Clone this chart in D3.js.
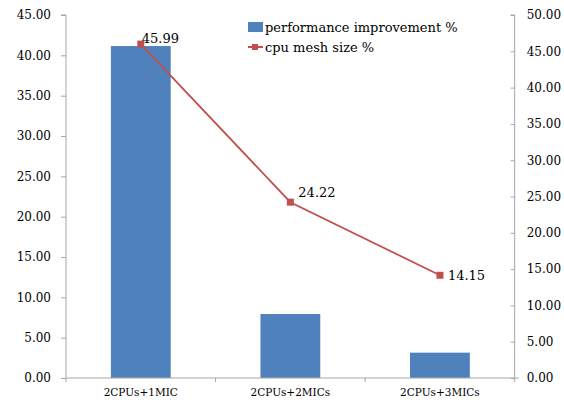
<!DOCTYPE html>
<html><head><meta charset="utf-8">
<script src="https://cdn.jsdelivr.net/npm/d3@7/dist/d3.min.js"></script>
<style>body{margin:0;background:#fff}svg{display:block}</style>
</head><body><svg id="c" width="564" height="404"></svg>
<script>
const categories = ["2CPUs+1MIC", "2CPUs+2MICs", "2CPUs+3MICs"];
const performance = [41.15, 7.93, 3.14];
const meshSize = [45.99, 24.22, 14.15];
const leftTicks = [0,5,10,15,20,25,30,35,40,45];
const rightTicks = [0,5,10,15,20,25,30,35,40,45,50];
const seriesNames = ["performance improvement %", "cpu mesh size %"];

const W = 564, H = 404;
const m = {l:66, r:49.3, t:15, b:26};
const svg = d3.select("#c");
const font = "'DejaVu Serif', serif";
const axisCol = "#a6a6a6", textCol = "#000";
const barCol = "#4F81BD", lineCol = "#C0504D";

const x = d3.scaleBand().domain(categories).range([m.l, W - m.r]).paddingInner(0.6).paddingOuter(0.3);
const yL = d3.scaleLinear().domain([0,45]).range([H - m.b, m.t]);
const yR = d3.scaleLinear().domain([0,50]).range([H - m.b, m.t]);

svg.selectAll("rect.bar").data(performance).join("rect")
  .attr("x", (d,i)=>x(categories[i])).attr("width", x.bandwidth())
  .attr("y", d=>yL(d)).attr("height", d=>yL(0)-yL(d)).attr("fill", barCol);

const gl = svg.append("g").attr("transform", `translate(${m.l},0)`)
  .call(d3.axisLeft(yL).tickValues(leftTicks).tickFormat(d3.format(".2f")).tickSize(5).tickPadding(10));
const gr = svg.append("g").attr("transform", `translate(${W - m.r},0)`)
  .call(d3.axisRight(yR).tickValues(rightTicks).tickFormat(d3.format(".2f")).tickSizeInner(-4).tickSizeOuter(0).tickPadding(12));
const gx = svg.append("g").attr("transform", `translate(0,${H - m.b})`)
  .call(d3.axisBottom(x).tickSize(0).tickPadding(11));
const step = x.step();
const bounds = d3.range(categories.length + 1).map(i => m.l + i*step);
svg.append("g").selectAll("line").data(bounds).join("line")
  .attr("x1", d=>d).attr("x2", d=>d).attr("y1", H-m.b).attr("y2", H-m.b+4).attr("stroke", axisCol);

[gl, gr, gx].forEach(g => {
  g.selectAll("path,line").attr("stroke", axisCol);
  g.selectAll("text").attr("fill", textCol).style("font-family", font);
});
gl.selectAll("text").style("font-size", "12px");
gr.selectAll("text").style("font-size", "12px");
gx.selectAll("text").style("font-size", "10.5px");
gl.select("path").attr("d", `M-5,${m.t}H0V${H-m.b}`);
gr.select("path").attr("d", `M-4,${m.t}H0V${H-m.b}`);
gx.select("path").attr("d", `M${m.l},0H${W-m.r+4}`);

const cx = (i)=> x(categories[i]) + x.bandwidth()/2;
const line = d3.line().x((d,i)=>cx(i)).y(d=>yR(d));
svg.append("path").datum(meshSize).attr("d", line).attr("fill","none").attr("stroke", lineCol).attr("stroke-width", 1.75);
svg.selectAll("rect.mk").data(meshSize).join("rect").attr("class","mk")
  .attr("x",(d,i)=>cx(i)-3.5).attr("y", d=>yR(d)-3.5).attr("width",7).attr("height",7).attr("fill", lineCol);

const labelOffsets = [[1,-6],[8,-10],[8,0]];
svg.selectAll("text.lbl").data(meshSize).join("text").attr("class","lbl")
  .attr("x",(d,i)=>cx(i)+labelOffsets[i][0]).attr("y",(d,i)=>yR(d)+labelOffsets[i][1])
  .attr("dy","0.35em").attr("fill", textCol).style("font-family", font).style("font-size","13px")
  .text(d=>d3.format(".2f")(d));

const lg = svg.append("g");
lg.append("rect").attr("x",248).attr("y",22).attr("width",15).attr("height",10).attr("fill",barCol);
lg.append("line").attr("x1",248).attr("x2",263).attr("y1",47).attr("y2",47).attr("stroke",lineCol).attr("stroke-width",2);
lg.append("rect").attr("x",252).attr("y",44).attr("width",6).attr("height",6).attr("fill",lineCol);
lg.selectAll("text").data(seriesNames).join("text")
  .attr("x",265).attr("y",(d,i)=>27 + i*20).attr("dy","0.35em")
  .attr("fill", textCol).style("font-family", font).style("font-size","13px").text(d=>d);
</script></body></html>
